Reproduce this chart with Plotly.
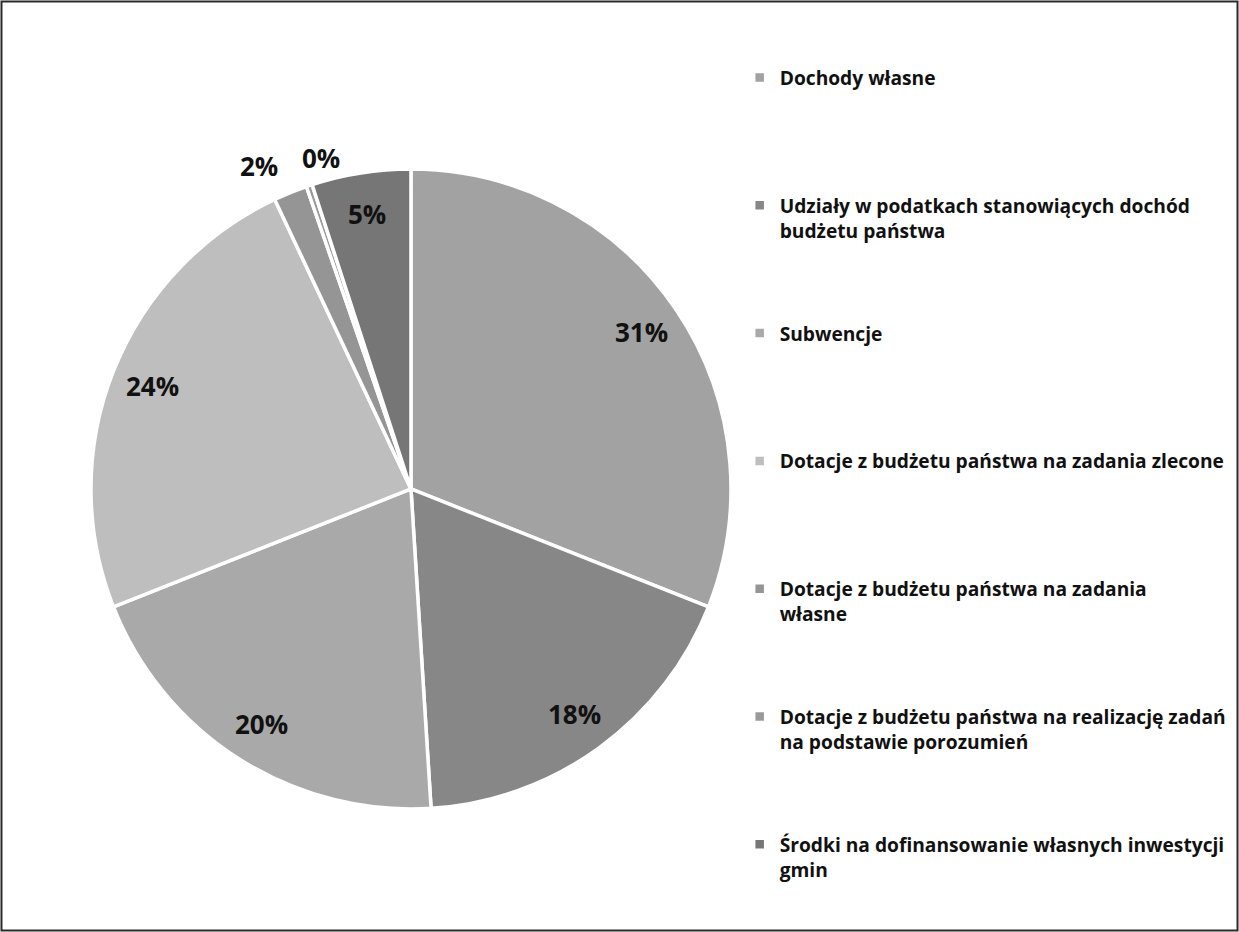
import math
import plotly.graph_objects as go

categories = [
    "Dochody własne",
    "Udziały w podatkach stanowiących dochód<br>budżetu państwa",
    "Subwencje",
    "Dotacje z budżetu państwa na zadania zlecone",
    "Dotacje z budżetu państwa na zadania<br>własne",
    "Dotacje z budżetu państwa na realizację zadań<br>na podstawie porozumień",
    "Środki na dofinansowanie własnych inwestycji<br>gmin",
]
shares = [31, 18, 20, 24, 1.7, 0.3, 5]
pct_labels = ["31%", "18%", "20%", "24%", "2%", "0%", "5%"]

# styles
colors = ["#a2a2a2", "#878787", "#a9a9a9", "#bebebe", "#959595", "#9a9a9a", "#767676"]
label_outside = [False, False, False, False, True, True, False]
label_anchor = ["center", "center", "center", "center", "right", "left", "center"]
LEGEND_FS = 19.2

W, H = 1239, 932
dom_x = [0.0734, 0.590]
dom_y = [0.132, 0.8187]

# legend names: pad entries to 5 lines so entries are evenly spaced
legend_names = []
for i, c in enumerate(categories):
    n_lines = c.count("<br>") + 1
    pad = 0 if i == len(categories) - 1 else 5 - n_lines
    legend_names.append(c + "<br> " * pad)

fig = go.Figure(
    go.Pie(
        labels=legend_names,
        values=shares,
        sort=False,
        direction="clockwise",
        rotation=0,
        marker=dict(colors=colors, line=dict(color="white", width=3.5)),
        textinfo="none",
        domain=dict(x=dom_x, y=dom_y),
        hovertemplate="%{percent}<extra></extra>",
    )
)

# percentage labels placed along each slice's mid-angle (computed from data)
cx = (dom_x[0] + dom_x[1]) / 2 * W
cy = (dom_y[0] + dom_y[1]) / 2 * H
R = min((dom_x[1] - dom_x[0]) * W, (dom_y[1] - dom_y[0]) * H) / 2
total = sum(shares)
cum = 0.0
annotations = []
for v, lab, out, anc in zip(shares, pct_labels, label_outside, label_anchor):
    mid = (cum + v / 2) / total * 2 * math.pi
    cum += v
    f = 1.09 if out else 0.87
    px = cx + R * f * math.sin(mid)
    py = cy + R * f * math.cos(mid)
    annotations.append(dict(
        x=px / W, y=py / H, xref="paper", yref="paper", text=lab, showarrow=False,
        xanchor=anc, yanchor="middle",
        font=dict(family="Open Sans", size=26, color="#111111", weight="bold"),
    ))

fig.update_layout(
    width=W,
    height=H,
    margin=dict(l=0, r=0, t=0, b=0),
    paper_bgcolor="white",
    showlegend=True,
    legend=dict(
        x=0.597,
        y=0.9372,
        xanchor="left",
        yanchor="top",
        valign="top",
        font=dict(family="Open Sans", size=LEGEND_FS, color="#111111", weight="bold"),
        itemclick=False,
        bgcolor="rgba(0,0,0,0)",
    ),
    annotations=annotations,
    shapes=[
        dict(type="rect", xref="paper", yref="paper", x0=0.0012, y0=0.0016, x1=0.9988, y1=0.9984,
             line=dict(color="#2a2a2a", width=2)),
    ],
)

fig.write_html(
    "out.html",
    config={"displayModeBar": False},
    post_script="document.body.style.margin='0';document.body.style.overflow='hidden';",
)
